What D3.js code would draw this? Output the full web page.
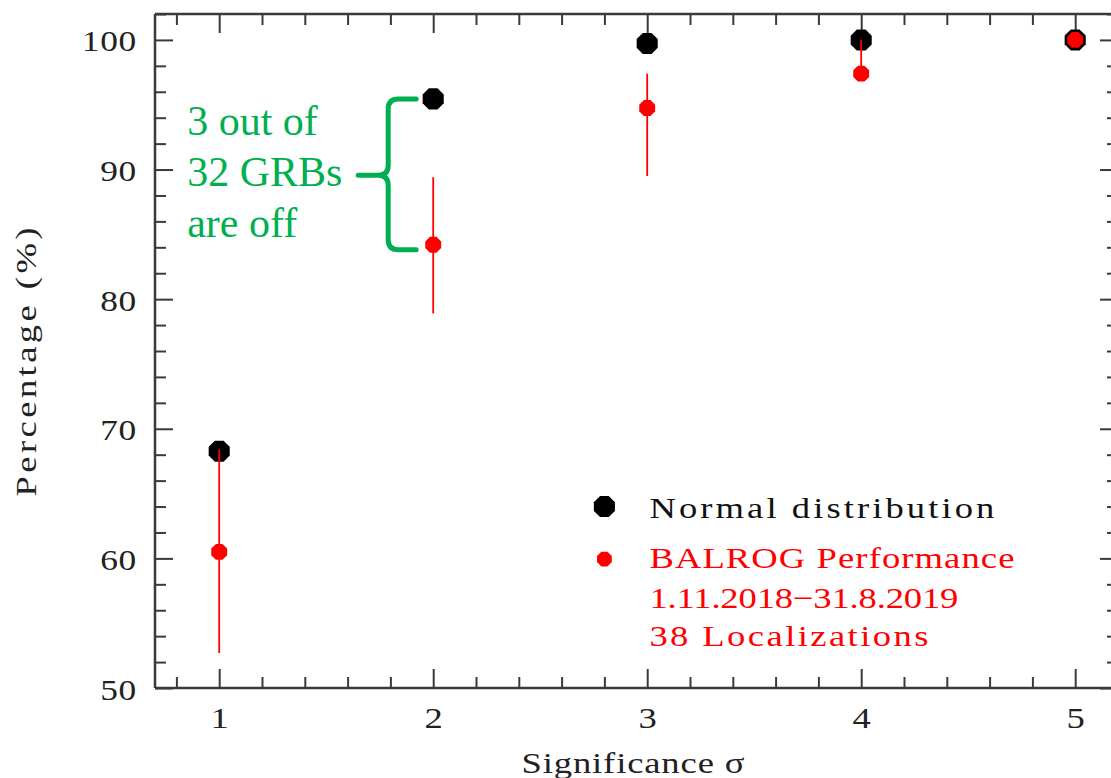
<!DOCTYPE html>
<html>
<head>
<meta charset="utf-8">
<script src="https://cdn.jsdelivr.net/npm/d3@7"></script>
<style>
  html, body { margin: 0; padding: 0; background: #ffffff; }
  svg { display: block; }
</style>
</head>
<body>
<svg id="chart" width="1111" height="778"></svg>
<script>
// ---- data ----
const categories = [1, 2, 3, 4, 5];
const normalValues = [68.27, 95.45, 99.73, 99.99, 100.0];
const balrogValues = [60.5, 84.2, 94.75, 97.4, 100.0];
const balrogLow = [52.7, 78.9, 89.5, 96.9, 100.0];
const balrogHigh = [68.4, 89.4, 97.4, 100.0, 100.0];
const xMajorTicks = [1, 2, 3, 4, 5];
const yMajorTicks = [50, 60, 70, 80, 90, 100];
const legendLabels = ["Normal distribution", "BALROG Performance", "1.11.2018\u221231.8.2019", "38 Localizations"];
const annotationLines = ["3 out of", "32 GRBs", "are off"];
const xLabel = "Significance \u03c3";
const yLabel = "Percentage  (%)";

// ---- layout ----
const svg = d3.select("#chart");
const plotLeft = 155, plotTop = 14, plotBottom = 688;
const x = d3.scaleLinear().domain([0.7, 5.2]).range([plotLeft, plotLeft + 4.5 * 214]);
const y = d3.scaleLinear().domain([50, 102]).range([plotBottom, plotTop]);
const plotRight = x.range()[1];

const axisColor = "#3a3a3a";
const font = "'Liberation Serif', 'Times New Roman', serif";
const red = "#ff0000";
const green = "#00b050";
const stretch = 1.22;

const xMinor = d3.range(0.8, 5.21, 0.2).filter(v => Math.abs(v - Math.round(v)) > 1e-6);
const yMinor = d3.range(50, 102.01, 2).filter(v => v % 10 !== 0);

function styleAxis(g) {
  g.select(".domain").remove();
  g.selectAll(".tick line").attr("stroke", axisColor).attr("stroke-width", 2);
}

// bottom
svg.append("g").attr("transform", `translate(0,${plotBottom})`)
  .call(d3.axisBottom(x).tickValues(xMinor).tickSize(-11).tickFormat(""))
  .call(styleAxis);
const bxAxis = svg.append("g").attr("transform", `translate(0,${plotBottom})`)
  .call(d3.axisBottom(x).tickValues(xMajorTicks).tickSize(-19).tickFormat(d3.format("d")))
  .call(styleAxis);
bxAxis.selectAll("text").attr("y", 40).attr("dy", 0)
  .attr("transform", `scale(${stretch},1)`)
  .attr("font-family", font).attr("font-size", 30).attr("fill", "#222");

// top
svg.append("g").attr("transform", `translate(0,${plotTop})`)
  .call(d3.axisTop(x).tickValues(xMinor).tickSize(-11).tickFormat(""))
  .call(styleAxis);
svg.append("g").attr("transform", `translate(0,${plotTop})`)
  .call(d3.axisTop(x).tickValues(xMajorTicks).tickSize(-19).tickFormat(""))
  .call(styleAxis);

// left
svg.append("g").attr("transform", `translate(${plotLeft},0)`)
  .call(d3.axisLeft(y).tickValues(yMinor).tickSize(-11).tickFormat(""))
  .call(styleAxis);
const lyAxis = svg.append("g").attr("transform", `translate(${plotLeft},0)`)
  .call(d3.axisLeft(y).tickValues(yMajorTicks).tickSize(-18).tickFormat(d3.format("d")))
  .call(styleAxis);
lyAxis.selectAll("text").attr("x", -18 / stretch).attr("dy", 11)
  .attr("transform", `scale(${stretch},1)`)
  .attr("font-family", font).attr("font-size", 29).attr("fill", "#222")
  .attr("letter-spacing", 0.6);

// right
svg.append("g").attr("transform", `translate(${plotRight},0)`)
  .call(d3.axisRight(y).tickValues(yMinor).tickSize(-11).tickFormat(""))
  .call(styleAxis);
svg.append("g").attr("transform", `translate(${plotRight},0)`)
  .call(d3.axisRight(y).tickValues(yMajorTicks).tickSize(-18).tickFormat(""))
  .call(styleAxis);

// frame lines
const frame = svg.append("g").attr("stroke", axisColor).attr("stroke-width", 2.5);
frame.append("line").attr("x1", plotLeft).attr("x2", plotRight).attr("y1", plotBottom).attr("y2", plotBottom);
frame.append("line").attr("x1", plotLeft).attr("x2", plotRight).attr("y1", plotTop).attr("y2", plotTop);
frame.append("line").attr("x1", plotLeft).attr("x2", plotLeft).attr("y1", plotTop).attr("y2", plotBottom);
frame.append("line").attr("x1", plotRight).attr("x2", plotRight).attr("y1", plotTop).attr("y2", plotBottom);

// axis labels
svg.append("text").attr("transform", `translate(${(plotLeft + 1111) / 2},773) scale(${stretch},1)`)
  .attr("text-anchor", "middle").attr("font-family", font).attr("font-size", 30)
  .attr("fill", "#222").attr("textLength", 223 / stretch).attr("lengthAdjust", "spacing").text(xLabel);
svg.append("text").attr("transform", `translate(36,362) rotate(-90) scale(${stretch},1)`)
  .attr("text-anchor", "middle").attr("font-family", font).attr("font-size", 30)
  .attr("fill", "#222").attr("textLength", 269 / stretch).attr("lengthAdjust", "spacing").text(yLabel);

// octagon symbol
const octagon = {
  draw(context, size) {
    const r = Math.sqrt(size / 2.8284);
    for (let i = 0; i < 8; i++) {
      const a = Math.PI / 8 + i * Math.PI / 4;
      const px = r * Math.cos(a), py = r * Math.sin(a);
      if (i === 0) context.moveTo(px, py); else context.lineTo(px, py);
    }
    context.closePath();
  }
};
const bigSize = 2.8284 * 11.4 * 11.4;
const smallSize = 2.8284 * 8.6 * 8.6;

// normal points
svg.append("g").selectAll("path").data(categories).join("path")
  .attr("transform", (d, i) => `translate(${x(d)},${y(normalValues[i])})`)
  .attr("d", d3.symbol().type(octagon).size(bigSize)).attr("fill", "#000");

// error bars
svg.append("g").selectAll("line").data(categories).join("line")
  .attr("x1", d => x(d)).attr("x2", d => x(d))
  .attr("y1", (d, i) => y(balrogLow[i])).attr("y2", (d, i) => y(balrogHigh[i]))
  .attr("stroke", red).attr("stroke-width", 1.8);

// balrog points
svg.append("g").selectAll("path").data(categories).join("path")
  .attr("transform", (d, i) => `translate(${x(d)},${y(balrogValues[i])})`)
  .attr("d", d3.symbol().type(octagon).size(smallSize)).attr("fill", red);

// legend
const lgX = x(2.8), lgTextX = lgX + 45;
svg.append("path").attr("transform", `translate(${lgX},${y(64.0)})`)
  .attr("d", d3.symbol().type(octagon).size(bigSize)).attr("fill", "#000");
svg.append("path").attr("transform", `translate(${lgX},${y(59.95)})`)
  .attr("d", d3.symbol().type(octagon).size(2.8284 * 8 * 8)).attr("fill", red);
const legendBase = [518, 568, 608, 646];
const legendWidths = [345, 365, 309, 279];
legendLabels.forEach((t, i) => {
  svg.append("text").attr("transform", `translate(${lgTextX},${legendBase[i]}) scale(${stretch},1)`)
    .attr("font-family", font).attr("font-size", 30)
    .attr("fill", i === 0 ? "#111" : red)
    .attr("textLength", legendWidths[i] / stretch).attr("lengthAdjust", "spacing").text(t);
});

// annotation brace
const x2 = x(2);
const bTop = y(normalValues[1]), bBot = y(balrogValues[1]) + 5;
const bMid = (bTop + bBot) / 2 + 1;
const vx = x2 - 45, armR = x2 - 17, tipX = x2 - 75, rr = 10;
const bracePath = `M${armR},${bTop} H${vx + rr} Q${vx},${bTop} ${vx},${bTop + rr} V${bMid - rr} Q${vx},${bMid} ${vx - rr},${bMid} H${tipX}` +
  ` M${vx - rr},${bMid} Q${vx},${bMid} ${vx},${bMid + rr} V${bBot - rr} Q${vx},${bBot} ${vx + rr},${bBot} H${armR}`;
svg.append("path").attr("d", bracePath).attr("fill", "none")
  .attr("stroke", green).attr("stroke-width", 5).attr("stroke-linecap", "round").attr("stroke-linejoin", "round");

const annBase = [135, 186, 237];
annotationLines.forEach((t, i) => {
  svg.append("text").attr("x", x2 - 246).attr("y", annBase[i])
    .attr("font-family", font).attr("font-size", 42).attr("fill", green).text(t);
});
</script>
</body>
</html>
